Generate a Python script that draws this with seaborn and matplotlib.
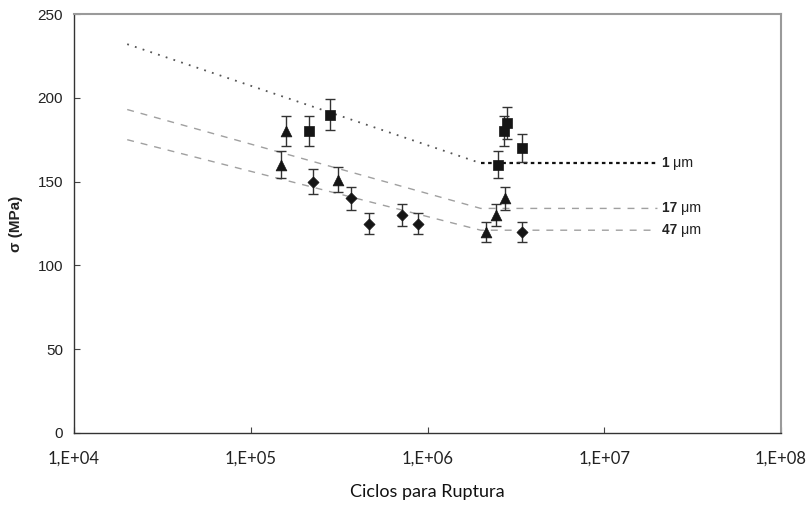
import matplotlib
matplotlib.use("Agg")
import matplotlib.pyplot as plt
import numpy as np
import pandas as pd
import seaborn as sns
from matplotlib.ticker import FixedLocator, FuncFormatter, NullLocator

# Fatigue test results per grain size: cycles to failure, stress amplitude, scatter
cycles_1um = [2.14e5, 2.80e5, 2.51e6, 2.72e6, 2.82e6, 3.43e6]
stress_1um = [180, 190, 160, 180, 185, 170]
err_1um = [9.0, 9.5, 8.0, 9.0, 9.3, 8.5]

cycles_17um = [1.49e5, 1.58e5, 3.11e5, 2.14e6, 2.45e6, 2.76e6]
stress_17um = [160, 180, 151, 120, 130, 140]
err_17um = [8.0, 9.0, 7.5, 6.0, 6.5, 7.0]

cycles_47um = [2.25e5, 3.68e5, 4.65e5, 7.15e5, 8.80e5, 3.43e6]
stress_47um = [150, 140, 125, 130, 125, 120]
err_47um = [7.5, 7.0, 6.3, 6.5, 6.3, 6.0]

# S-N curves (sloped branch, knee, endurance plateau)
fit_cycles = [2.0e4, 2.0e6, 2.0e7]
fit_1um = [232, 161, 161]
fit_17um = [193, 134, 134]
fit_47um = [175, 121, 121]

series_labels = ["1 \u03bcm", "17 \u03bcm", "47 \u03bcm"]
x_ticks = [1e4, 1e5, 1e6, 1e7, 1e8]
y_ticks = [0, 50, 100, 150, 200, 250]

sns.set_theme(style="white")
plt.rcParams["font.family"] = ["Liberation Sans", "DejaVu Sans"]

fig = plt.figure(figsize=(8.10, 5.05), dpi=100)
ax = fig.add_axes([74 / 810, 72 / 505, (781 - 74) / 810, (433 - 14) / 505])
ax.set_xscale("log")

# fitted curves
sns.lineplot(x=fit_cycles[:2], y=fit_1um[:2], ax=ax, color="#555555",
             lw=1.3, linestyle=(0, (1, 3.5)), sort=False)
sns.lineplot(x=fit_cycles[1:], y=fit_1um[1:], ax=ax, color="#111111",
             lw=1.6, linestyle=(0, (1.6, 1.6)), sort=False)
sns.lineplot(x=fit_cycles, y=fit_17um, ax=ax, color="#a0a0a0",
             lw=1.0, linestyle=(0, (5, 5)), sort=False)
sns.lineplot(x=fit_cycles, y=fit_47um, ax=ax, color="#a0a0a0",
             lw=1.0, linestyle=(0, (5, 5)), sort=False)

# measured points with error bars
groups = [
    (cycles_1um, stress_1um, err_1um, "s", 55),
    (cycles_17um, stress_17um, err_17um, "^", 60),
    (cycles_47um, stress_47um, err_47um, "D", 32),
]
for cyc, sig, err, mk, size in groups:
    ax.errorbar(cyc, sig, yerr=err, fmt="none", ecolor="#333333",
                elinewidth=1.0, capsize=3.5, capthick=1.0, zorder=3)
    df = pd.DataFrame({"N": cyc, "S": sig})
    sns.scatterplot(data=df, x="N", y="S", ax=ax, marker=mk, s=size,
                    color="#151515", edgecolor="#151515", linewidth=0.5,
                    zorder=4)

# curve labels at the plateau end
for lab, y in zip(series_labels, [fit_1um[-1], fit_17um[-1], fit_47um[-1]]):
    num, unit = lab.split(" ")
    t = ax.text(2.12e7, y, num + " ", fontsize=9.8, fontweight="bold",
                va="center", ha="left", color="#222222")
    ax.annotate(unit, xycoords=t, xy=(1, 0.5), va="center", ha="left",
                fontsize=10.3, color="#222222")

ax.set_xlim(1e4, 1e8)
ax.set_ylim(0, 250)
ax.xaxis.set_major_locator(FixedLocator(x_ticks))
ax.xaxis.set_minor_locator(NullLocator())
ax.xaxis.set_major_formatter(
    FuncFormatter(lambda v, p: "1,E+%02d" % int(round(np.log10(v)))))
ax.set_yticks(y_ticks)

ax.tick_params(axis="both", direction="in", length=4, width=0.8,
               color="#444444", bottom=True, left=True)
ax.tick_params(axis="y", labelsize=11, pad=8, labelcolor="#222222")
ax.tick_params(axis="x", pad=13, labelcolor="#222222")
for lbl in ax.get_xticklabels():
    lbl.set_fontfamily(["Lato", "DejaVu Sans"])
    lbl.set_fontsize(12)

for side in ["left", "bottom"]:
    ax.spines[side].set_color("#333333")
    ax.spines[side].set_linewidth(1.0)
for side in ["top", "right"]:
    ax.spines[side].set_color("#9a9a9a")
    ax.spines[side].set_linewidth(1.5)

ax.set_xlabel("Ciclos para Ruptura", fontsize=13, labelpad=12,
              family=["Lato", "DejaVu Sans"], color="#111111")
ax.set_ylabel("\u03c3 (MPa)", fontsize=11, fontweight="bold", labelpad=10,
              color="#222222")

fig.savefig("out.png", dpi=100, facecolor="white")
